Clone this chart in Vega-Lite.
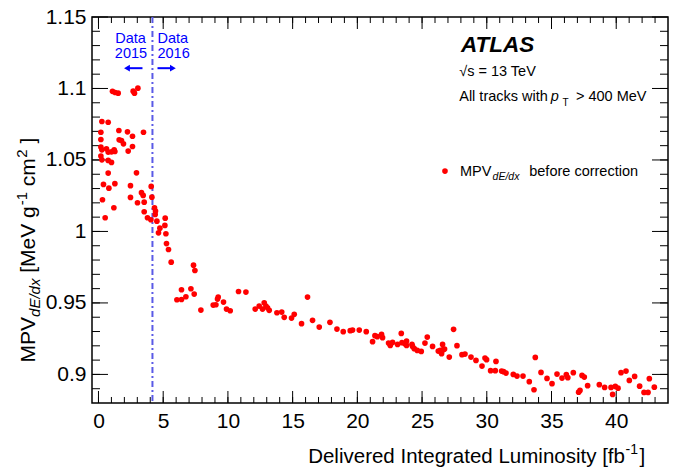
{
"$schema": "https://vega.github.io/schema/vega-lite/v6.json",
"width": 576, "height": 386,
"autosize": {"type": "none"},
"padding": {"left": 92, "top": 17, "right": 7, "bottom": 65},
"background": "white",
"config": {"view": {"stroke": "#000", "strokeWidth": 1.5, "fill": "transparent"}, "font": "Liberation Sans",
 "axis": {"grid": false, "domain": false, "ticks": false, "labelColor": "#000", "labelFont": "Liberation Sans", "labelFontSize": 21},
 "text": {"font": "Liberation Sans", "color": "#000"}},
"datasets": {
"xminor": [{"v":0},{"v":1},{"v":2},{"v":3},{"v":4},{"v":5},{"v":6},{"v":7},{"v":8},{"v":9},{"v":10},{"v":11},{"v":12},{"v":13},{"v":14},{"v":15},{"v":16},{"v":17},{"v":18},{"v":19},{"v":20},{"v":21},{"v":22},{"v":23},{"v":24},{"v":25},{"v":26},{"v":27},{"v":28},{"v":29},{"v":30},{"v":31},{"v":32},{"v":33},{"v":34},{"v":35},{"v":36},{"v":37},{"v":38},{"v":39},{"v":40},{"v":41},{"v":42},{"v":43}],
"xmajor": [{"v":0},{"v":5},{"v":10},{"v":15},{"v":20},{"v":25},{"v":30},{"v":35},{"v":40}],
"yminor": [{"v":0.89},{"v":0.9},{"v":0.91},{"v":0.92},{"v":0.93},{"v":0.94},{"v":0.95},{"v":0.96},{"v":0.97},{"v":0.98},{"v":0.99},{"v":1},{"v":1.01},{"v":1.02},{"v":1.03},{"v":1.04},{"v":1.05},{"v":1.06},{"v":1.07},{"v":1.08},{"v":1.09},{"v":1.1},{"v":1.11},{"v":1.12},{"v":1.13},{"v":1.14}],
"ymajor": [{"v":0.9},{"v":0.95},{"v":1},{"v":1.05},{"v":1.1},{"v":1.15}],
"points": [
{"x":1.082,"y":1.0980},{"x":1.291,"y":1.0972},{"x":1.522,"y":1.0967},{"x":2.682,"y":1.0981},{"x":3.045,"y":1.1002},{"x":2.782,"y":1.0967},
{"x":0.263,"y":1.0769},{"x":0.750,"y":1.0764},{"x":0.185,"y":1.0694},{"x":1.576,"y":1.0706},{"x":2.241,"y":1.0697},{"x":2.628,"y":1.0666},{"x":3.478,"y":1.0694},
{"x":0.185,"y":1.0643},{"x":1.600,"y":1.0641},{"x":1.777,"y":1.0636},{"x":1.932,"y":1.0613},{"x":2.628,"y":1.0594},{"x":2.295,"y":1.0562},
{"x":0.185,"y":1.0590},{"x":0.263,"y":1.0571},{"x":0.618,"y":1.0578},{"x":0.750,"y":1.0555},{"x":1.005,"y":1.0557},{"x":1.213,"y":1.0571},{"x":1.267,"y":1.0559},
{"x":0.185,"y":1.0527},{"x":0.263,"y":1.0501},{"x":0.750,"y":1.0497},{"x":1.005,"y":1.0483},{"x":0.750,"y":1.0408},{"x":2.937,"y":1.0410},
{"x":0.386,"y":1.0329},{"x":0.804,"y":1.0303},{"x":1.267,"y":1.0334},{"x":2.473,"y":1.0320},{"x":4.073,"y":1.0315},
{"x":0.309,"y":1.0222},{"x":2.473,"y":1.0238},{"x":3.323,"y":1.0271},{"x":3.454,"y":1.0252},{"x":4.127,"y":1.0240},
{"x":1.190,"y":1.0166},{"x":3.014,"y":1.0201},{"x":3.532,"y":1.0205},{"x":4.328,"y":1.0166},{"x":4.405,"y":1.0143},
{"x":0.518,"y":1.0096},{"x":3.532,"y":1.0138},{"x":3.787,"y":1.0096},{"x":4.382,"y":1.0119},{"x":4.513,"y":1.0072},{"x":5.155,"y":1.0093},{"x":4.049,"y":1.0082},
{"x":4.637,"y":0.9990},{"x":5.209,"y":0.9984},{"x":5.131,"y":1.0042},{"x":4.745,"y":1.0023},{"x":5.255,"y":0.9915},{"x":5.410,"y":0.9874},{"x":5.618,"y":0.9785},
{"x":7.342,"y":0.9764},{"x":7.450,"y":0.9727},{"x":6.414,"y":0.9592},{"x":7.141,"y":0.9599},{"x":7.396,"y":0.9562},{"x":6.754,"y":0.9543},{"x":6.414,"y":0.9524},{"x":6.059,"y":0.9522},
{"x":7.913,"y":0.9450},{"x":9.250,"y":0.9541},{"x":9.196,"y":0.9527},{"x":9.660,"y":0.9506},{"x":8.864,"y":0.9485},{"x":9.073,"y":0.9487},{"x":9.892,"y":0.9457},{"x":10.178,"y":0.9445},
{"x":10.819,"y":0.9580},{"x":11.391,"y":0.9576},{"x":12.805,"y":0.9501},{"x":12.419,"y":0.9478},{"x":12.937,"y":0.9478},{"x":13.060,"y":0.9466},{"x":12.110,"y":0.9457},{"x":12.674,"y":0.9457},
{"x":13.192,"y":0.9448},{"x":13.787,"y":0.9431},{"x":14.158,"y":0.9436},{"x":14.351,"y":0.9399},{"x":14.915,"y":0.9394},{"x":15.124,"y":0.9420},
{"x":16.151,"y":0.9541},{"x":15.688,"y":0.9355},{"x":16.538,"y":0.9378},{"x":17.056,"y":0.9331},{"x":17.883,"y":0.9364},{"x":18.423,"y":0.9317},{"x":18.910,"y":0.9299},
{"x":19.451,"y":0.9306},{"x":19.629,"y":0.9310},{"x":20.147,"y":0.9310},{"x":20.688,"y":0.9299},{"x":21.175,"y":0.9229},{"x":21.360,"y":0.9271},{"x":21.538,"y":0.9264},
{"x":21.870,"y":0.9280},{"x":21.947,"y":0.9257},{"x":22.411,"y":0.9219},{"x":22.543,"y":0.9203},{"x":22.720,"y":0.9224},{"x":23.107,"y":0.9210},{"x":23.393,"y":0.9287},
{"x":23.447,"y":0.9222},{"x":23.679,"y":0.9215},{"x":23.802,"y":0.9233},{"x":23.802,"y":0.9203},{"x":24.220,"y":0.9210},{"x":24.266,"y":0.9196},{"x":24.397,"y":0.9180},
{"x":24.629,"y":0.9168},{"x":24.938,"y":0.9161},{"x":25.224,"y":0.9219},{"x":25.402,"y":0.9261},{"x":25.811,"y":0.9196},{"x":26.252,"y":0.9163},{"x":26.406,"y":0.9168},
{"x":26.507,"y":0.9145},{"x":26.584,"y":0.9210},{"x":26.638,"y":0.9173},{"x":26.739,"y":0.9177},{"x":27.102,"y":0.9121},{"x":27.434,"y":0.9315},{"x":27.697,"y":0.9201},
{"x":28.083,"y":0.9138},{"x":28.315,"y":0.9142},{"x":28.779,"y":0.9121},{"x":29.165,"y":0.9098},{"x":29.629,"y":0.9058},{"x":29.861,"y":0.9114},{"x":29.985,"y":0.9103},
{"x":30.294,"y":0.9026},{"x":30.657,"y":0.9026},{"x":30.711,"y":0.9091},{"x":31.144,"y":0.9023},{"x":31.298,"y":0.9019},{"x":31.484,"y":0.9009},{"x":32.048,"y":0.9000},
{"x":32.334,"y":0.8988},{"x":32.798,"y":0.8988},{"x":33.284,"y":0.8949},{"x":33.648,"y":0.8893},{"x":33.748,"y":0.9119},{"x":34.189,"y":0.9014},{"x":34.652,"y":0.8972},
{"x":35.039,"y":0.8935},{"x":35.425,"y":0.9002},{"x":35.812,"y":0.8974},{"x":36.144,"y":0.8998},{"x":36.260,"y":0.8977},{"x":36.685,"y":0.9012},{"x":37.094,"y":0.8876},
{"x":37.202,"y":0.8888},{"x":37.357,"y":0.8993},{"x":37.535,"y":0.8981},{"x":37.790,"y":0.8921},{"x":38.694,"y":0.8928},{"x":39.104,"y":0.8909},{"x":39.598,"y":0.8909},
{"x":39.722,"y":0.8860},{"x":39.930,"y":0.8916},{"x":40.139,"y":0.8904},{"x":40.371,"y":0.9012},{"x":40.757,"y":0.9023},{"x":41.012,"y":0.8958},{"x":41.422,"y":0.8986},
{"x":41.808,"y":0.8918},{"x":42.148,"y":0.8874},{"x":42.457,"y":0.8874},{"x":42.558,"y":0.8970},{"x":42.944,"y":0.8911}
]},
"encoding": {
 "x": {"type": "quantitative", "scale": {"domain": [-0.5, 44], "nice": false, "zero": false}},
 "y": {"type": "quantitative", "scale": {"domain": [0.88, 1.15], "nice": false, "zero": false}}
},
"layer": [
 {"data": {"name": "xminor"}, "mark": {"type": "rule", "color": "#000", "strokeWidth": 1},
  "encoding": {"x": {"field": "v", "type": "quantitative"}, "y": {"datum": 0.88, "type": "quantitative"}, "y2": {"datum": 0.8842}}},
 {"data": {"name": "xminor"}, "mark": {"type": "rule", "color": "#000", "strokeWidth": 1},
  "encoding": {"x": {"field": "v", "type": "quantitative"}, "y": {"datum": 1.15, "type": "quantitative"}, "y2": {"datum": 1.1458}}},
 {"data": {"name": "xmajor"}, "mark": {"type": "rule", "color": "#000", "strokeWidth": 1},
  "encoding": {"x": {"field": "v", "type": "quantitative"}, "y": {"datum": 0.88, "type": "quantitative"}, "y2": {"datum": 0.8884}}},
 {"data": {"name": "xmajor"}, "mark": {"type": "rule", "color": "#000", "strokeWidth": 1},
  "encoding": {"x": {"field": "v", "type": "quantitative"}, "y": {"datum": 1.15, "type": "quantitative"}, "y2": {"datum": 1.1416}}},
 {"data": {"name": "yminor"}, "mark": {"type": "rule", "color": "#000", "strokeWidth": 1},
  "encoding": {"y": {"field": "v", "type": "quantitative"}, "x": {"datum": -0.5, "type": "quantitative"}, "x2": {"datum": 0.118}}},
 {"data": {"name": "yminor"}, "mark": {"type": "rule", "color": "#000", "strokeWidth": 1},
  "encoding": {"y": {"field": "v", "type": "quantitative"}, "x": {"datum": 44, "type": "quantitative"}, "x2": {"datum": 43.382}}},
 {"data": {"name": "ymajor"}, "mark": {"type": "rule", "color": "#000", "strokeWidth": 1},
  "encoding": {"y": {"field": "v", "type": "quantitative"}, "x": {"datum": -0.5, "type": "quantitative"}, "x2": {"datum": 0.736}}},
 {"data": {"name": "ymajor"}, "mark": {"type": "rule", "color": "#000", "strokeWidth": 1},
  "encoding": {"y": {"field": "v", "type": "quantitative"}, "x": {"datum": 44, "type": "quantitative"}, "x2": {"datum": 42.764}}},
 {"data": {"values": [{}]},
  "mark": {"type": "rule", "color": "#5a5ae6", "strokeWidth": 2, "strokeDash": [6, 3, 2, 3]},
  "encoding": {"x": {"datum": 4.17, "type": "quantitative"}}},
 {"data": {"name": "points"},
  "mark": {"type": "circle", "color": "#ff0000", "opacity": 1, "size": 32},
  "encoding": {
   "x": {"field": "x", "type": "quantitative", "scale": {"domain": [-0.5, 44], "nice": false, "zero": false},
         "axis": {"orient": "bottom", "title": null, "ticks": false, "labelPadding": 7, "values": [0,5,10,15,20,25,30,35,40], "format": "d"}},
   "y": {"field": "y", "type": "quantitative", "scale": {"domain": [0.88, 1.15], "nice": false, "zero": false},
         "axis": {"orient": "left", "title": null, "ticks": false, "labelPadding": 6, "values": [0.9,0.95,1,1.05,1.1,1.15], "format": "~g"}}}},
 {"data": {"values": [{}]},
  "layer": [
   {"mark": {"type": "text", "text": "ATLAS", "fontSize": 22.5, "fontWeight": "bold", "fontStyle": "italic", "align": "left", "baseline": "alphabetic"},
    "encoding": {"x": {"datum": 28.0, "type": "quantitative"}, "y": {"datum": 1.1254, "type": "quantitative"}}},
   {"mark": {"type": "text", "text": "√s = 13 TeV", "fontSize": 14.5, "align": "left", "baseline": "alphabetic"},
    "encoding": {"x": {"datum": 27.87, "type": "quantitative"}, "y": {"datum": 1.1084, "type": "quantitative"}}},
   {"mark": {"type": "text", "text": "All tracks with", "fontSize": 14.5, "align": "left", "baseline": "alphabetic"},
    "encoding": {"x": {"datum": 27.87, "type": "quantitative"}, "y": {"datum": 1.0909, "type": "quantitative"}}},
   {"mark": {"type": "text", "text": "p", "fontSize": 14.5, "fontStyle": "italic", "align": "left", "baseline": "alphabetic"},
    "encoding": {"x": {"datum": 34.95, "type": "quantitative"}, "y": {"datum": 1.0909, "type": "quantitative"}}},
   {"mark": {"type": "text", "text": "T", "fontSize": 10, "align": "left", "baseline": "alphabetic"},
    "encoding": {"x": {"datum": 35.85, "type": "quantitative"}, "y": {"datum": 1.0874, "type": "quantitative"}}},
   {"mark": {"type": "text", "text": "> 400 MeV", "fontSize": 14.5, "align": "left", "baseline": "alphabetic"},
    "encoding": {"x": {"datum": 36.89, "type": "quantitative"}, "y": {"datum": 1.0909, "type": "quantitative"}}},
   {"mark": {"type": "circle", "color": "#ff0000", "opacity": 1, "size": 32},
    "encoding": {"x": {"datum": 26.77, "type": "quantitative"}, "y": {"datum": 1.0422, "type": "quantitative"}}},
   {"mark": {"type": "text", "text": "MPV", "fontSize": 14.5, "align": "left", "baseline": "alphabetic"},
    "encoding": {"x": {"datum": 27.93, "type": "quantitative"}, "y": {"datum": 1.0387, "type": "quantitative"}}},
   {"mark": {"type": "text", "text": "dE/dx", "fontSize": 10.5, "fontStyle": "italic", "align": "left", "baseline": "alphabetic"},
    "encoding": {"x": {"datum": 30.45, "type": "quantitative"}, "y": {"datum": 1.0360, "type": "quantitative"}}},
   {"mark": {"type": "text", "text": "before correction", "fontSize": 14.5, "align": "left", "baseline": "alphabetic"},
    "encoding": {"x": {"datum": 33.28, "type": "quantitative"}, "y": {"datum": 1.0387, "type": "quantitative"}}},
   {"mark": {"type": "text", "text": "Data", "fontSize": 14.5, "color": "#0000ff", "align": "left", "baseline": "alphabetic"},
    "encoding": {"x": {"datum": 1.298, "type": "quantitative"}, "y": {"datum": 1.1320, "type": "quantitative"}}},
   {"mark": {"type": "text", "text": "2015", "fontSize": 14.5, "color": "#0000ff", "align": "left", "baseline": "alphabetic"},
    "encoding": {"x": {"datum": 1.267, "type": "quantitative"}, "y": {"datum": 1.1215, "type": "quantitative"}}},
   {"mark": {"type": "text", "text": "Data", "fontSize": 14.5, "color": "#0000ff", "align": "left", "baseline": "alphabetic"},
    "encoding": {"x": {"datum": 4.56, "type": "quantitative"}, "y": {"datum": 1.1320, "type": "quantitative"}}},
   {"mark": {"type": "text", "text": "2016", "fontSize": 14.5, "color": "#0000ff", "align": "left", "baseline": "alphabetic"},
    "encoding": {"x": {"datum": 4.56, "type": "quantitative"}, "y": {"datum": 1.1215, "type": "quantitative"}}},
   {"mark": {"type": "rule", "color": "#0000ff", "strokeWidth": 2},
    "encoding": {"x": {"datum": 2.2, "type": "quantitative"}, "x2": {"datum": 3.4}, "y": {"datum": 1.1142, "type": "quantitative"}}},
   {"mark": {"type": "point", "shape": "triangle-left", "filled": true, "color": "#0000ff", "opacity": 1, "size": 45},
    "encoding": {"x": {"datum": 2.2, "type": "quantitative"}, "y": {"datum": 1.1142, "type": "quantitative"}}},
   {"mark": {"type": "rule", "color": "#0000ff", "strokeWidth": 2},
    "encoding": {"x": {"datum": 4.56, "type": "quantitative"}, "x2": {"datum": 5.75}, "y": {"datum": 1.1142, "type": "quantitative"}}},
   {"mark": {"type": "point", "shape": "triangle-right", "filled": true, "color": "#0000ff", "opacity": 1, "size": 45},
    "encoding": {"x": {"datum": 5.75, "type": "quantitative"}, "y": {"datum": 1.1142, "type": "quantitative"}}},
   {"mark": {"type": "text", "text": "Delivered Integrated Luminosity [fb", "fontSize": 20.5, "align": "left", "baseline": "alphabetic"},
    "encoding": {"x": {"datum": 16.2, "type": "quantitative"}, "y": {"datum": 0.8378, "type": "quantitative"}}},
   {"mark": {"type": "text", "text": "-1", "fontSize": 14, "align": "left", "baseline": "alphabetic"},
    "encoding": {"x": {"datum": 40.72, "type": "quantitative"}, "y": {"datum": 0.8440, "type": "quantitative"}}},
   {"mark": {"type": "text", "text": "]", "fontSize": 20.5, "align": "left", "baseline": "alphabetic"},
    "encoding": {"x": {"datum": 41.8, "type": "quantitative"}, "y": {"datum": 0.8378, "type": "quantitative"}}},
   {"mark": {"type": "text", "text": "MPV", "fontSize": 21, "angle": 270, "align": "left", "baseline": "alphabetic"},
    "encoding": {"x": {"datum": -4.89, "type": "quantitative"}, "y": {"datum": 0.90839, "type": "quantitative"}}},
   {"mark": {"type": "text", "text": "dE/dx", "fontSize": 15, "fontStyle": "italic", "angle": 270, "align": "left", "baseline": "alphabetic"},
    "encoding": {"x": {"datum": -4.5, "type": "quantitative"}, "y": {"datum": 0.94021, "type": "quantitative"}}},
   {"mark": {"type": "text", "text": "[MeV g", "fontSize": 21, "angle": 270, "align": "left", "baseline": "alphabetic"},
    "encoding": {"x": {"datum": -4.89, "type": "quantitative"}, "y": {"datum": 0.97112, "type": "quantitative"}}},
   {"mark": {"type": "text", "text": "-1", "fontSize": 15, "angle": 270, "align": "left", "baseline": "alphabetic"},
    "encoding": {"x": {"datum": -5.51, "type": "quantitative"}, "y": {"datum": 1.01832, "type": "quantitative"}}},
   {"mark": {"type": "text", "text": "cm", "fontSize": 21, "angle": 270, "align": "left", "baseline": "alphabetic"},
    "encoding": {"x": {"datum": -4.89, "type": "quantitative"}, "y": {"datum": 1.03168, "type": "quantitative"}}},
   {"mark": {"type": "text", "text": "2", "fontSize": 15, "angle": 270, "align": "left", "baseline": "alphabetic"},
    "encoding": {"x": {"datum": -5.51, "type": "quantitative"}, "y": {"datum": 1.05161, "type": "quantitative"}}},
   {"mark": {"type": "text", "text": "]", "fontSize": 21, "angle": 270, "align": "left", "baseline": "alphabetic"},
    "encoding": {"x": {"datum": -4.89, "type": "quantitative"}, "y": {"datum": 1.06147, "type": "quantitative"}}}
  ]}
]
}
